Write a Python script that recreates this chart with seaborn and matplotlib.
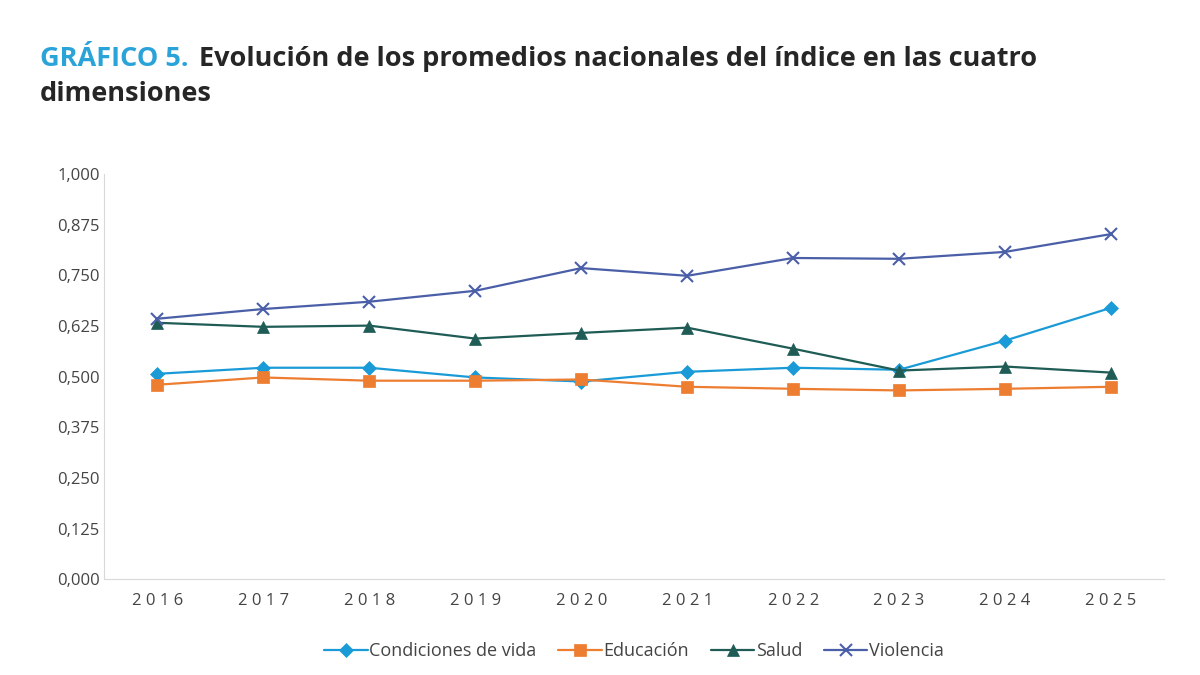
import matplotlib.pyplot as plt
import seaborn as sns
import pandas as pd
from matplotlib.ticker import FuncFormatter

years = [2016, 2017, 2018, 2019, 2020, 2021, 2022, 2023, 2024, 2025]
condiciones = [0.507, 0.522, 0.522, 0.498, 0.488, 0.512, 0.522, 0.517, 0.589, 0.670]
educacion = [0.480, 0.498, 0.490, 0.490, 0.493, 0.475, 0.470, 0.466, 0.470, 0.475]
salud = [0.633, 0.623, 0.626, 0.594, 0.608, 0.621, 0.569, 0.515, 0.525, 0.510]
violencia = [0.643, 0.667, 0.685, 0.712, 0.768, 0.749, 0.793, 0.791, 0.808, 0.852]

series = {
    'Condiciones de vida': condiciones,
    'Educación': educacion,
    'Salud': salud,
    'Violencia': violencia,
}
rows = [(y, name, v) for name, vals in series.items() for y, v in zip(years, vals)]
df = pd.DataFrame(rows, columns=['year', 'serie', 'valor'])

sns.set_style('white')
plt.rcParams['font.family'] = ['Open Sans', 'DejaVu Sans']

colors = ['#1a9bd7', '#ed7d31', '#1f5c55', '#4a5fa8']
markers = ['D', 's', '^', 'x']
sizes = [7, 9, 9, 9]

fig = plt.figure(figsize=(12, 6.75), dpi=100)
ax = fig.add_axes([0.087, 0.142, 0.883, 0.6])
for name, c, m, s in zip(series, colors, markers, sizes):
    d = df[df.serie == name]
    sns.lineplot(data=d, x='year', y='valor', ax=ax, color=c, marker=m,
                 markersize=s, markeredgecolor=c, markeredgewidth=1.5 if m == 'x' else 0.5,
                 linewidth=1.6, label=name)

ax.set_ylim(0, 1)
ax.set_xlim(2015.5, 2025.5)
ax.set_yticks([i * 0.125 for i in range(9)])
ax.yaxis.set_major_formatter(FuncFormatter(lambda v, p: f'{v:.3f}'.replace('.', ',')))
ax.set_xticks(years)
ax.set_xticklabels([' '.join(str(y)) for y in years], fontsize=12, color='#444444')
ax.tick_params(axis='y', labelsize=12, labelcolor='#444444', length=0)
ax.tick_params(axis='x', length=0, pad=10)
ax.set_xlabel('')
ax.set_ylabel('')
for s in ['top', 'right']:
    ax.spines[s].set_visible(False)
ax.spines['left'].set_color('#d9d9d9')
ax.spines['bottom'].set_color('#d9d9d9')

ax.legend(loc='upper center', bbox_to_anchor=(0.5, -0.115), ncol=4, frameon=False,
          fontsize=13, handlelength=2.4, handletextpad=0.1, columnspacing=1.2,
          labelcolor='#444444')

t1 = fig.text(0.033, 0.902, 'GRÁFICO 5.', color='#2aa3d8', fontsize=19.5, fontweight='bold')
fig.text(0.166, 0.902, 'Evolución de los promedios nacionales del índice en las cuatro',
         color='#262626', fontsize=19.5, fontweight='bold')
fig.text(0.033, 0.85, 'dimensiones', color='#262626', fontsize=19.5, fontweight='bold')

fig.savefig('out.png', dpi=100)
